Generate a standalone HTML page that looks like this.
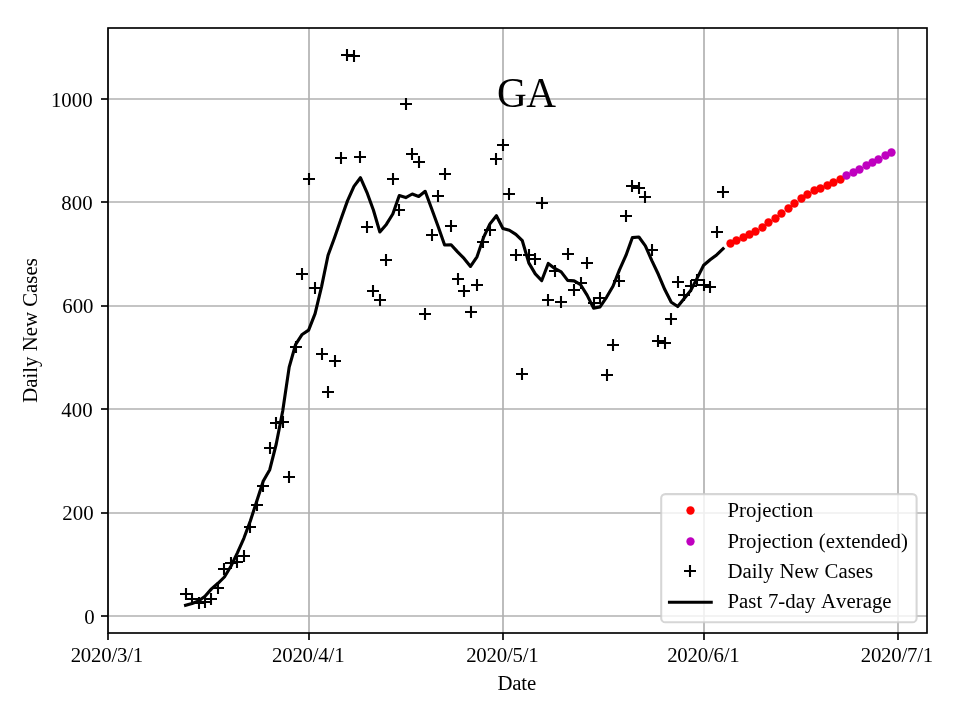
<!DOCTYPE html>
<html><head><meta charset="utf-8"><title>GA</title>
<style>html,body{margin:0;padding:0;background:#fff;}body{width:960px;height:720px;overflow:hidden;}svg{display:block;will-change:transform;}text{font-family:"Liberation Serif",serif;fill:#000;font-kerning:none;}</style></head><body>
<svg width="960" height="720" viewBox="0 0 960 720">
<rect x="0" y="0" width="960" height="720" fill="#ffffff"/>
<g stroke="#b0b0b0" stroke-width="1.667" fill="none">
<line x1="108" y1="28.0" x2="108" y2="633.0"/>
<line x1="309" y1="28.0" x2="309" y2="633.0"/>
<line x1="503" y1="28.0" x2="503" y2="633.0"/>
<line x1="704" y1="28.0" x2="704" y2="633.0"/>
<line x1="898" y1="28.0" x2="898" y2="633.0"/>
<line x1="108.0" y1="616" x2="927.0" y2="616"/>
<line x1="108.0" y1="513" x2="927.0" y2="513"/>
<line x1="108.0" y1="409" x2="927.0" y2="409"/>
<line x1="108.0" y1="306" x2="927.0" y2="306"/>
<line x1="108.0" y1="202" x2="927.0" y2="202"/>
<line x1="108.0" y1="99" x2="927.0" y2="99"/>
</g>
<defs><clipPath id="c"><rect x="108.0" y="28.0" width="819.0" height="605.0"/></clipPath></defs>
<g clip-path="url(#c)">
<g fill="#ff0000">
<circle cx="730.5" cy="243.5" r="4.17"/>
<circle cx="736.5" cy="240.5" r="4.17"/>
<circle cx="743.5" cy="237.5" r="4.17"/>
<circle cx="749.5" cy="234.5" r="4.17"/>
<circle cx="755.5" cy="231.5" r="4.17"/>
<circle cx="762.5" cy="227.5" r="4.17"/>
<circle cx="768.5" cy="222.5" r="4.17"/>
<circle cx="775.5" cy="218.5" r="4.17"/>
<circle cx="781.5" cy="213.5" r="4.17"/>
<circle cx="788.5" cy="208.5" r="4.17"/>
<circle cx="794.5" cy="203.5" r="4.17"/>
<circle cx="801.5" cy="198.5" r="4.17"/>
<circle cx="807.5" cy="194.5" r="4.17"/>
<circle cx="814.5" cy="190.5" r="4.17"/>
<circle cx="820.5" cy="188.5" r="4.17"/>
<circle cx="827.5" cy="185.5" r="4.17"/>
<circle cx="833.5" cy="182.5" r="4.17"/>
<circle cx="840.5" cy="179.5" r="4.17"/>
</g><g fill="#bf00bf">
<circle cx="846.5" cy="175.5" r="4.17"/>
<circle cx="853.5" cy="172.5" r="4.17"/>
<circle cx="859.5" cy="169.5" r="4.17"/>
<circle cx="866.5" cy="165.5" r="4.17"/>
<circle cx="872.5" cy="162.5" r="4.17"/>
<circle cx="878.5" cy="159.5" r="4.17"/>
<circle cx="885.5" cy="155.5" r="4.17"/>
<circle cx="891.5" cy="152.5" r="4.17"/>
</g>
<path d="M180.00 594.00H192.00M186.00 588.00V600.00M186.00 599.00H198.00M192.00 593.00V605.00M193.00 603.00H205.00M199.00 597.00V609.00M199.00 602.00H211.00M205.00 596.00V608.00M205.00 599.00H217.00M211.00 593.00V605.00M212.00 588.00H224.00M218.00 582.00V594.00M218.00 569.00H230.00M224.00 563.00V575.00M225.00 563.00H237.00M231.00 557.00V569.00M231.00 562.00H243.00M237.00 556.00V568.00M238.00 556.00H250.00M244.00 550.00V562.00M244.00 527.00H256.00M250.00 521.00V533.00M251.00 505.00H263.00M257.00 499.00V511.00M257.00 486.00H269.00M263.00 480.00V492.00M264.00 448.00H276.00M270.00 442.00V454.00M270.00 423.00H282.00M276.00 417.00V429.00M277.00 422.00H289.00M283.00 416.00V428.00M283.00 477.00H295.00M289.00 471.00V483.00M290.00 347.00H302.00M296.00 341.00V353.00M296.00 274.00H308.00M302.00 268.00V280.00M303.00 179.00H315.00M309.00 173.00V185.00M309.00 288.00H321.00M315.00 282.00V294.00M316.00 354.00H328.00M322.00 348.00V360.00M322.00 392.00H334.00M328.00 386.00V398.00M329.00 361.00H341.00M335.00 355.00V367.00M335.00 158.00H347.00M341.00 152.00V164.00M341.00 55.00H353.00M347.00 49.00V61.00M348.00 56.00H360.00M354.00 50.00V62.00M354.00 157.00H366.00M360.00 151.00V163.00M361.00 227.00H373.00M367.00 221.00V233.00M367.00 291.00H379.00M373.00 285.00V297.00M374.00 300.00H386.00M380.00 294.00V306.00M380.00 260.00H392.00M386.00 254.00V266.00M387.00 179.00H399.00M393.00 173.00V185.00M393.00 210.00H405.00M399.00 204.00V216.00M400.00 104.00H412.00M406.00 98.00V110.00M406.00 154.00H418.00M412.00 148.00V160.00M413.00 162.00H425.00M419.00 156.00V168.00M419.00 314.00H431.00M425.00 308.00V320.00M426.00 235.00H438.00M432.00 229.00V241.00M432.00 196.00H444.00M438.00 190.00V202.00M439.00 174.00H451.00M445.00 168.00V180.00M445.00 226.00H457.00M451.00 220.00V232.00M452.00 279.00H464.00M458.00 273.00V285.00M458.00 291.00H470.00M464.00 285.00V297.00M465.00 312.00H477.00M471.00 306.00V318.00M471.00 285.00H483.00M477.00 279.00V291.00M477.00 242.00H489.00M483.00 236.00V248.00M484.00 230.00H496.00M490.00 224.00V236.00M490.00 159.00H502.00M496.00 153.00V165.00M497.00 145.00H509.00M503.00 139.00V151.00M503.00 194.00H515.00M509.00 188.00V200.00M510.00 255.00H522.00M516.00 249.00V261.00M516.00 374.00H528.00M522.00 368.00V380.00M523.00 255.00H535.00M529.00 249.00V261.00M529.00 259.00H541.00M535.00 253.00V265.00M536.00 203.00H548.00M542.00 197.00V209.00M542.00 300.00H554.00M548.00 294.00V306.00M549.00 271.00H561.00M555.00 265.00V277.00M555.00 302.00H567.00M561.00 296.00V308.00M562.00 254.00H574.00M568.00 248.00V260.00M568.00 290.00H580.00M574.00 284.00V296.00M575.00 283.00H587.00M581.00 277.00V289.00M581.00 263.00H593.00M587.00 257.00V269.00M588.00 303.00H600.00M594.00 297.00V309.00M594.00 298.00H606.00M600.00 292.00V304.00M601.00 375.00H613.00M607.00 369.00V381.00M607.00 345.00H619.00M613.00 339.00V351.00M613.00 281.00H625.00M619.00 275.00V287.00M620.00 216.00H632.00M626.00 210.00V222.00M626.00 186.00H638.00M632.00 180.00V192.00M633.00 188.00H645.00M639.00 182.00V194.00M639.00 197.00H651.00M645.00 191.00V203.00M646.00 250.00H658.00M652.00 244.00V256.00M652.00 341.00H664.00M658.00 335.00V347.00M659.00 343.00H671.00M665.00 337.00V349.00M665.00 319.00H677.00M671.00 313.00V325.00M672.00 282.00H684.00M678.00 276.00V288.00M678.00 295.00H690.00M684.00 289.00V301.00M685.00 286.00H697.00M691.00 280.00V292.00M691.00 280.00H703.00M697.00 274.00V286.00M698.00 285.00H710.00M704.00 279.00V291.00M704.00 287.00H716.00M710.00 281.00V293.00M711.00 232.00H723.00M717.00 226.00V238.00M717.00 192.00H729.00M723.00 186.00V198.00" stroke="#000" stroke-width="2.083" fill="none"/>
<polyline points="185.58,605.30 192.05,603.50 198.53,601.00 205.00,596.30 211.48,588.90 217.96,583.30 224.43,577.00 230.91,566.29 237.38,552.86 243.86,538.29 250.33,521.00 256.81,501.00 263.29,481.00 269.76,469.71 276.24,444.00 282.71,411.00 289.19,367.14 295.67,344.29 302.14,334.43 308.62,330.14 315.09,313.57 321.57,286.57 328.05,255.29 334.52,237.71 341.00,219.00 347.47,200.86 353.95,186.43 360.43,177.71 366.90,192.29 373.38,210.00 379.85,232.00 386.33,224.43 392.80,214.00 399.28,195.57 405.76,197.57 412.23,194.00 418.71,196.43 425.18,191.29 431.66,208.71 438.14,226.57 444.61,245.00 451.09,244.71 457.56,251.86 464.04,258.43 470.52,266.43 476.99,256.86 483.47,237.71 489.94,223.86 496.42,215.71 502.89,228.43 509.37,230.29 515.85,234.43 522.32,240.71 528.80,262.86 535.27,273.86 541.75,280.57 548.23,263.43 554.70,268.43 561.18,271.86 567.65,280.43 574.13,280.86 580.61,284.71 587.08,295.14 593.56,308.14 600.03,306.86 606.51,297.29 612.99,286.29 619.46,269.86 625.94,255.43 632.41,237.57 638.89,237.00 645.36,245.86 651.84,260.57 658.32,274.29 664.79,289.57 671.27,302.29 677.74,306.57 684.22,298.57 690.70,290.57 697.17,278.14 703.65,265.29 710.12,259.80 716.60,254.90 723.08,248.75" stroke="#000" stroke-width="3.125" fill="none" stroke-linejoin="round" stroke-linecap="square"/>
</g>
<g stroke="#000" stroke-width="1.667" fill="none">
<line x1="108" y1="633.0" x2="108" y2="640.00"/>
<line x1="309" y1="633.0" x2="309" y2="640.00"/>
<line x1="503" y1="633.0" x2="503" y2="640.00"/>
<line x1="704" y1="633.0" x2="704" y2="640.00"/>
<line x1="898" y1="633.0" x2="898" y2="640.00"/>
<line x1="108.0" y1="616" x2="101.00" y2="616"/>
<line x1="108.0" y1="513" x2="101.00" y2="513"/>
<line x1="108.0" y1="409" x2="101.00" y2="409"/>
<line x1="108.0" y1="306" x2="101.00" y2="306"/>
<line x1="108.0" y1="202" x2="101.00" y2="202"/>
<line x1="108.0" y1="99" x2="101.00" y2="99"/>
</g>
<rect x="108.0" y="28.0" width="819.00" height="605.00" fill="none" stroke="#000" stroke-width="1.667" stroke-linejoin="miter"/>
<g font-size="20.833px">
<text x="106.80" y="661.9" text-anchor="middle" style="letter-spacing:-0.22px">2020/3/1</text>
<text x="308.20" y="661.9" text-anchor="middle" style="letter-spacing:-0.22px">2020/4/1</text>
<text x="502.30" y="661.9" text-anchor="middle" style="letter-spacing:-0.22px">2020/5/1</text>
<text x="703.30" y="661.9" text-anchor="middle" style="letter-spacing:-0.22px">2020/6/1</text>
<text x="896.90" y="661.9" text-anchor="middle" style="letter-spacing:-0.22px">2020/7/1</text>
<text x="94.55" y="623.9" text-anchor="end">0</text>
<text x="93.6" y="519.9" text-anchor="end">200</text>
<text x="92.55" y="416.9" text-anchor="end">400</text>
<text x="93.5" y="312.9" text-anchor="end">600</text>
<text x="92.55" y="209.9" text-anchor="end">800</text>
<text x="92.6" y="106.8" text-anchor="end">1000</text>
<text x="516.70" y="689.5" text-anchor="middle" style="letter-spacing:-0.2px">Date</text>
<text transform="translate(37.2 330.50) rotate(-90)" text-anchor="middle">Daily New Cases</text>
</g>
<text x="497.1" y="107.25" font-size="41.2px" style="letter-spacing:-0.5px">GA</text>
<rect x="661.2" y="494.1" width="255.40" height="128.20" rx="4.17" ry="4.17" fill="#ffffff" fill-opacity="0.8" stroke="#cccccc" stroke-opacity="0.8" stroke-width="2.083"/>
<circle cx="690.5" cy="510.5" r="4.17" fill="#ff0000"/>
<circle cx="690.5" cy="541.5" r="4.17" fill="#bf00bf"/>
<path d="M684 571H696M690 565V577" stroke="#000" stroke-width="2.083" fill="none"/>
<line x1="669.5" y1="602.3" x2="711.2" y2="602.3" stroke="#000" stroke-width="3.125" stroke-linecap="square"/>
<g font-size="20.833px">
<text x="727.5" y="517.3" style="word-spacing:0.5px">Projection</text>
<text x="727.5" y="548.0" style="word-spacing:0.5px">Projection (extended)</text>
<text x="727.5" y="577.9" style="word-spacing:0.5px">Daily New Cases</text>
<text x="727.5" y="608.2" style="word-spacing:0.5px">Past 7-day Average</text>
</g>
</svg></body></html>
